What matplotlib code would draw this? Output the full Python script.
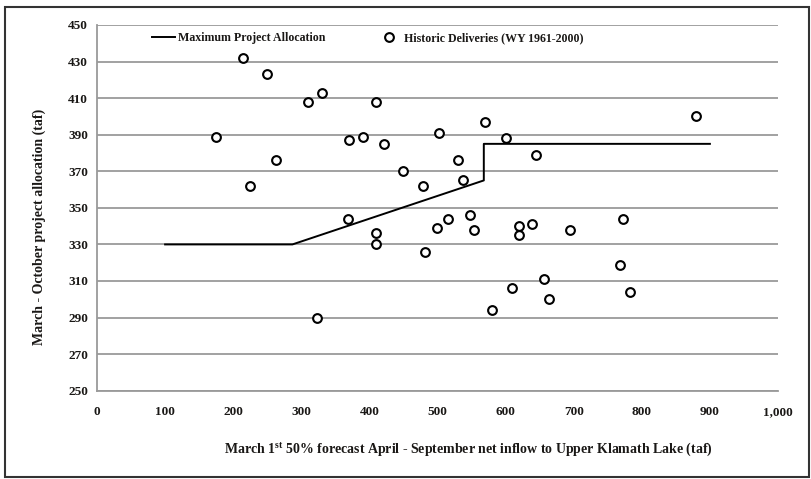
import matplotlib
matplotlib.use("Agg")
import matplotlib.pyplot as plt
from matplotlib.patches import Rectangle

# Maximum Project Allocation curve
alloc_x = [100, 287, 568, 568, 900]
alloc_y = [330, 330, 365, 385, 385]

# Historic deliveries (WY 1961-2000)
hist_x = [175, 215, 250, 225, 263, 310, 330, 410, 370, 390,
          422, 450, 369, 410, 410, 323, 502, 570, 600, 880,
          645, 530, 479, 538, 547, 515, 500, 554, 620, 620,
          639, 694, 773, 482, 768, 656, 609, 664, 783, 580]
hist_y = [389, 432, 423, 362, 376, 408, 413, 408, 387, 389,
          385, 370, 344, 336, 330, 290, 391, 397, 388, 400,
          379, 376, 362, 365, 346, 344, 339, 338, 340, 335,
          341, 338, 344, 326, 319, 311, 306, 300, 304, 294]

x_ticks = list(range(0, 1001, 100))
x_tick_labels = ["0", "100", "200", "300", "400", "500", "600", "700", "800", "900", "1,000"]
y_ticks = list(range(250, 451, 20))

plt.rcParams['font.family'] = ['Liberation Serif', 'DejaVu Serif']
plt.rcParams['mathtext.fontset'] = 'custom'
plt.rcParams['mathtext.rm'] = 'Liberation Serif:bold'
plt.rcParams['mathtext.it'] = 'Liberation Serif:bold'
plt.rcParams['mathtext.bf'] = 'Liberation Serif:bold'
txt = "#1a1816"

W, H = 812, 479
fig = plt.figure(figsize=(W/100, H/100), dpi=100)
L, R, T, B = 97, 778, 25, 390.7
ax = fig.add_axes([L/W, 1-B/H, (R-L)/W, (B-T)/H])

ln, = ax.plot(alloc_x, alloc_y, color="black", lw=1.4, zorder=3)
mk, = ax.plot(hist_x, hist_y, linestyle="none", marker="o", markersize=6.3, markerfacecolor="white",
              markeredgecolor="black", markeredgewidth=1.5, zorder=4)

ax.set_xlim(0, 1000)
ax.set_ylim(250, 450)
ax.set_xticks(x_ticks)
ax.set_xticklabels(x_tick_labels)
ax.set_yticks(y_ticks)
ax.yaxis.grid(True, color="#9a9a9a", lw=1.3)
ax.set_axisbelow(True)
for s in ["top", "right"]:
    ax.spines[s].set_visible(False)
for s in ["left", "bottom"]:
    ax.spines[s].set_color("#9a9a9a")
    ax.spines[s].set_linewidth(1.3)
ax.tick_params(axis="both", length=0, labelsize=9.5, labelcolor=txt)
ax.tick_params(axis="x", pad=11)
ax.tick_params(axis="y", pad=6.5)
for lab in ax.get_xticklabels() + ax.get_yticklabels():
    lab.set_fontweight("bold")

fig.text(468/W, 1-449/H,
         r"March 1$^{\mathrm{st}}$ 50% forecast April - September net inflow to Upper Klamath Lake (taf)",
         fontsize=10, fontweight="bold", color=txt, ha="center", va="center")
fig.text(39/W, 1-227/H, "March - October project allocation (taf)", fontsize=10, fontweight="bold",
         color=txt, ha="center", va="center", rotation=90)

def px_ax(x, y):
    return ((x-L)/(R-L), (B-y)/(B-T))

leg1 = ax.legend([ln], ["Maximum Project Allocation"], loc="center left",
                 bbox_to_anchor=px_ax(152, 38), frameon=False, fontsize=8.6,
                 handlelength=1.95, handletextpad=0.25, borderpad=0, borderaxespad=0)
ax.add_artist(leg1)
leg2 = ax.legend([mk], ["Historic Deliveries (WY 1961-2000)"], loc="center left",
                 bbox_to_anchor=px_ax(377.5, 38), frameon=False, fontsize=8.6,
                 handlelength=1.95, handletextpad=0.25, borderpad=0, borderaxespad=0)
for lg in (leg1, leg2):
    for t in lg.get_texts():
        t.set_fontweight("bold")
        t.set_color(txt)

fig.patches.append(Rectangle((5/W, 1-477/H), (809-5)/W, (477-7)/H, transform=fig.transFigure,
                             fill=False, edgecolor="#333333", lw=1.5))

fig.savefig("out.png", dpi=100)
